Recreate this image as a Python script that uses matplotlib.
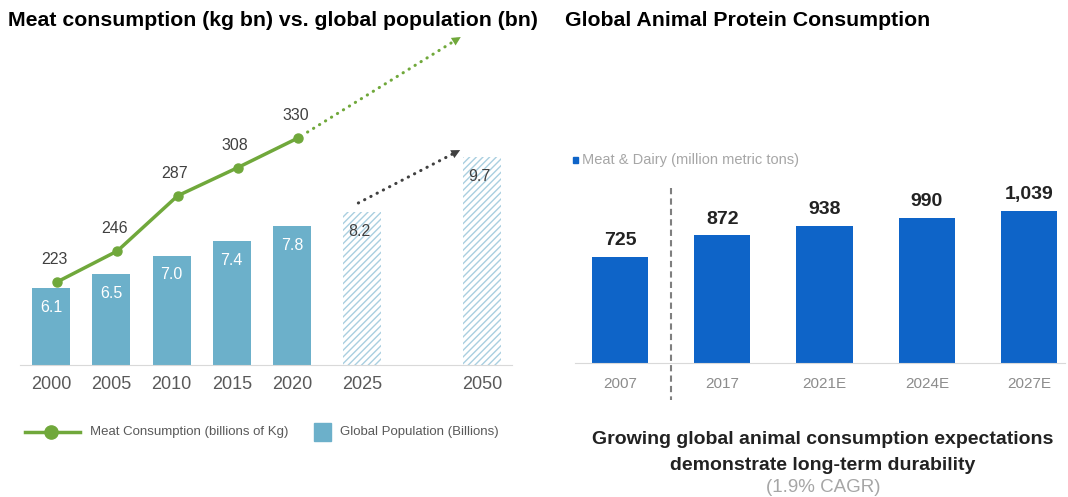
import matplotlib.pyplot as plt
from matplotlib.lines import Line2D
from matplotlib.patches import Rectangle

plt.rcParams['font.family'] = ['Liberation Sans', 'DejaVu Sans']

# left panel: population bars + meat consumption line
years = ['2000', '2005', '2010', '2015', '2020', '2025', '2050']
population = [6.1, 6.5, 7.0, 7.4, 7.8, 8.2, 9.7]
meat_years = ['2000', '2005', '2010', '2015', '2020']
meat = [223, 246, 287, 308, 330]

# right panel: meat & dairy consumption
protein_years = ['2007', '2017', '2021E', '2024E', '2027E']
protein = [725, 872, 938, 990, 1039]

W, H = 1068, 497
BAR_BLUE = '#6cb0ca'
HATCH_BLUE = '#a9cfe0'
GREEN = '#70a83b'
DEEP_BLUE = '#0e64c8'


def px_axes(fig, x0, y0, x1, y1):
    return fig.add_axes([x0 / W, 1 - y1 / H, (x1 - x0) / W, (y1 - y0) / H])


def dotted_arrow(axis, start, end, color, shrink_start=0):
    # dotted shaft plus a solid head at the end
    axis.annotate('', xy=end, xytext=start,
                  arrowprops=dict(arrowstyle='-', color=color, lw=2.2,
                                  linestyle=(0, (0.1, 2.2)), capstyle='round',
                                  shrinkA=shrink_start, shrinkB=3))
    axis.annotate('', xy=end, xytext=start,
                  arrowprops=dict(arrowstyle='-|>', color=color, lw=0,
                                  shrinkA=shrink_start, shrinkB=0,
                                  mutation_scale=16))


fig = plt.figure(figsize=(W / 100, H / 100), dpi=100)

# ---------- left chart ----------
ax = px_axes(fig, 20, 30, 512, 365)
pos = [0, 1, 2, 3, 4, 5.16, 7.15]
n_actual = len(meat)

ax.bar(pos[:n_actual], population[:n_actual], width=0.63, color=BAR_BLUE)
ax.bar(pos[n_actual:], population[n_actual:], width=0.63, color='white',
       edgecolor=HATCH_BLUE, hatch='/////', linewidth=0)
ax.set_xlim(-0.515, 7.65)
ax.set_ylim(4.0, 13.18)

for i, (x, v) in enumerate(zip(pos, population)):
    actual = i < n_actual
    ax.annotate(f'{v:.1f}', (x, v), xytext=(0 if actual else -2, -14),
                textcoords='offset points', ha='center', va='center',
                fontsize=11.5, color='white' if actual else '#404040')

ax.set_xticks(pos, years)
ax.tick_params(axis='x', length=0, pad=8, labelsize=13, labelcolor='#595959')
ax.set_yticks([])
for side in ['top', 'left', 'right']:
    ax.spines[side].set_visible(False)
ax.spines['bottom'].set_color('#d9d9d9')

ax2 = ax.twinx()
ax2.set_ylim(161.3, 410.2)
ax2.axis('off')
line_x = [p + 0.1 for p in pos[:n_actual]]
ax2.plot(line_x, meat, color=GREEN, lw=2.5, marker='o', markersize=6.5)
for x, v in zip(line_x, meat):
    ax2.annotate(str(v), (x, v), xytext=(-2, 16), textcoords='offset points',
                 ha='center', va='center', fontsize=11.5, color='#404040')

# projection arrows
dotted_arrow(ax2, (line_x[-1], meat[-1]), (6.8, 405), GREEN, shrink_start=8)
dotted_arrow(ax, (pos[5] - 0.06, population[5] + 0.24),
             (pos[6] - 0.36, population[6] + 0.19), '#404040')

fig.text(8 / W, 1 - 20 / H, 'Meat consumption (kg bn) vs. global population (bn)',
         fontsize=15.3, fontweight='bold', va='center', color='black')

# legend drawn by hand
fig.add_artist(Line2D([25 / W, 80 / W], [1 - 432 / H] * 2, color=GREEN, lw=2.5,
                      transform=fig.transFigure))
fig.add_artist(Line2D([51 / W], [1 - 432 / H], color=GREEN, marker='o',
                      markersize=9.5, transform=fig.transFigure))
fig.text(90 / W, 1 - 432 / H, 'Meat Consumption (billions of Kg)', fontsize=9.5,
         color='#595959', va='center')
fig.add_artist(Rectangle((314 / W, 1 - 441 / H), 17 / W, 18 / H, color=BAR_BLUE,
                         transform=fig.transFigure))
fig.text(340 / W, 1 - 432 / H, 'Global Population (Billions)', fontsize=9.5,
         color='#595959', va='center')

# ---------- right chart ----------
bx = px_axes(fig, 575, 170, 1065, 363)
rpos = range(len(protein))
bx.bar(rpos, protein, width=0.55, color=DEEP_BLUE)
bx.set_xlim(-0.44, 4.35)
bx.set_ylim(0, 1317)
for x, v in zip(rpos, protein):
    bx.annotate(f'{v:,}', (x, v), xytext=(0, 11.5), textcoords='offset points',
                ha='center', va='center', fontsize=14, fontweight='bold',
                color='#222222')
bx.set_xticks(list(rpos), protein_years)
bx.tick_params(axis='x', length=0, pad=10, labelsize=11, labelcolor='#8c8c8c')
bx.set_yticks([])
for side in ['top', 'left', 'right']:
    bx.spines[side].set_visible(False)
bx.spines['bottom'].set_color('#d9d9d9')

# separator between history and estimates
bx.plot([0.5, 0.5], [0.907, -0.19], transform=bx.get_xaxis_transform(),
        clip_on=False, color='#7f7f7f', lw=1.5, linestyle=(0, (3, 2)))

fig.text(565 / W, 1 - 20 / H, 'Global Animal Protein Consumption',
         fontsize=15.3, fontweight='bold', va='center', color='black')
fig.add_artist(Rectangle((573 / W, 1 - 163 / H), 5 / W, 6 / H, color=DEEP_BLUE,
                         transform=fig.transFigure))
fig.text(582 / W, 1 - 160 / H, 'Meat & Dairy (million metric tons)', fontsize=10.5,
         color='#a6a6a6', va='center')

fig.text(823 / W, 1 - 439 / H, 'Growing global animal consumption expectations',
         fontsize=14, fontweight='bold', ha='center', va='center', color='#222222')
fig.text(823 / W, 1 - 465 / H, 'demonstrate long-term durability',
         fontsize=14, fontweight='bold', ha='center', va='center', color='#222222')
fig.text(823 / W, 1 - 487 / H, '(1.9% CAGR)', fontsize=13.5, ha='center',
         va='center', color='#a6a6a6')

fig.savefig('out.png', dpi=100)
